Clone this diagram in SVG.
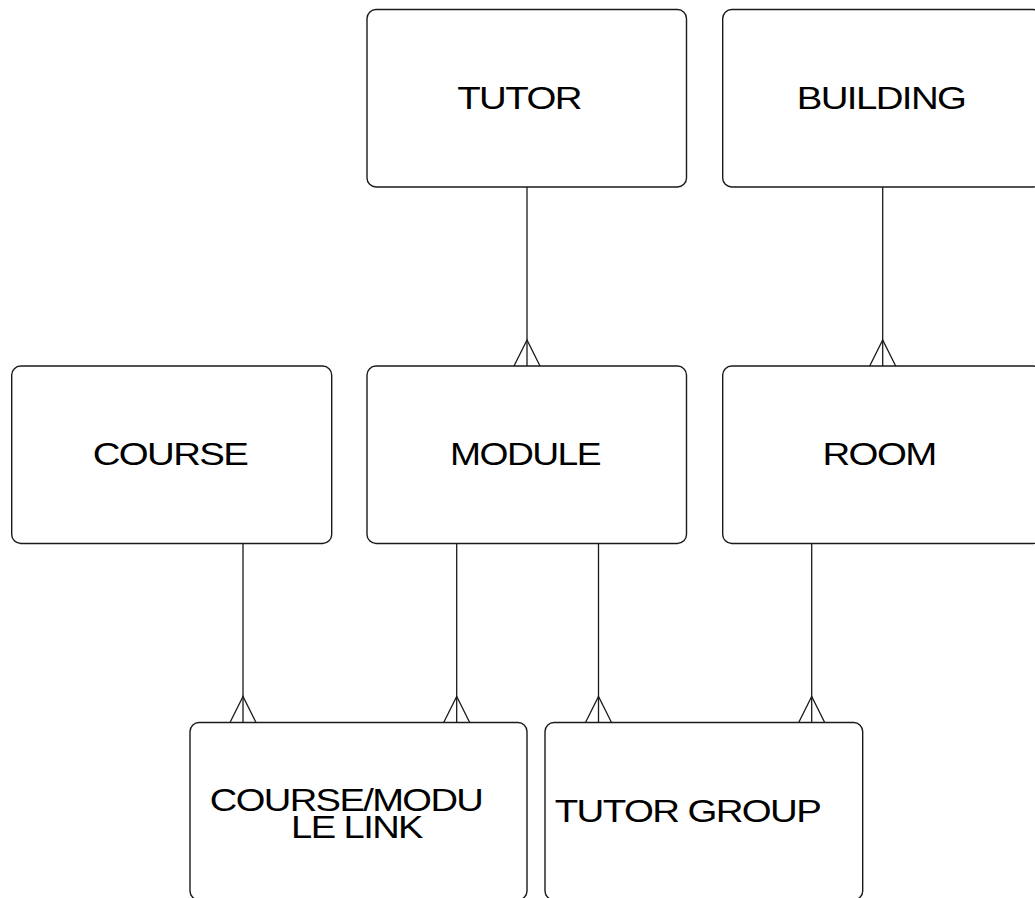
<svg xmlns="http://www.w3.org/2000/svg" width="1035" height="898" viewBox="0 0 1035 898">
<style>
.box{fill:#fff;stroke:#1a1a1a;stroke-width:1.4}
.lbl{font-family:"Liberation Sans",Arial,sans-serif;font-size:31px;fill:#000;text-anchor:middle;letter-spacing:-1.3px}
.conn line,.conn path{stroke:#1a1a1a;stroke-width:1.3;fill:none}
</style>
<rect width="1035" height="898" fill="#fff"/>
<g id="tutor"><rect class="box" x="367" y="9.5" width="319.5" height="177.5" rx="9"/><text class="lbl" transform="translate(519 109) scale(1.24 1)">TUTOR</text></g>
<g id="building"><rect class="box" x="722.7" y="9.5" width="319.5" height="177.5" rx="9"/><text class="lbl" transform="translate(881 109) scale(1.24 1)">BUILDING</text></g>
<g id="course"><rect class="box" x="11.7" y="366" width="320" height="177.5" rx="9"/><text class="lbl" transform="translate(170 464.5) scale(1.24 1)">COURSE</text></g>
<g id="module"><rect class="box" x="367" y="366" width="319.5" height="177.5" rx="9"/><text class="lbl" transform="translate(525 465) scale(1.2 1)">MODULE</text></g>
<g id="room"><rect class="box" x="722.7" y="366" width="319.5" height="177.5" rx="9"/><text class="lbl" transform="translate(879 465) scale(1.24 1)">ROOM</text></g>
<g id="course-module-link"><rect class="box" x="190" y="722.5" width="337" height="177.5" rx="9"/><text class="lbl" transform="translate(346 810.7) scale(1.23 1)">COURSE/MODU</text><text class="lbl" transform="translate(356.5 838.3) scale(1.23 1)">LE LINK</text></g>
<g id="tutor-group"><rect class="box" x="545" y="722.5" width="317.7" height="177.5" rx="9"/><text class="lbl" transform="translate(687.5 821.7) scale(1.24 1)">TUTOR GROUP</text></g>
<g id="connectors" class="conn">
<line x1="527" y1="187" x2="527" y2="366"/><path d="M514 366 L527 340 L540 366"/>
<line x1="882.7" y1="187" x2="882.7" y2="366"/><path d="M869.7 366 L882.7 340 L895.7 366"/>
<line x1="243" y1="543.5" x2="243" y2="722.5"/><path d="M230 722.5 L243 696.5 L256 722.5"/>
<line x1="456.7" y1="543.5" x2="456.7" y2="722.5"/><path d="M443.7 722.5 L456.7 696.5 L469.7 722.5"/>
<line x1="598.5" y1="543.5" x2="598.5" y2="722.5"/><path d="M585.5 722.5 L598.5 696.5 L611.5 722.5"/>
<line x1="811.7" y1="543.5" x2="811.7" y2="722.5"/><path d="M798.7 722.5 L811.7 696.5 L824.7 722.5"/>
</g>
</svg>
